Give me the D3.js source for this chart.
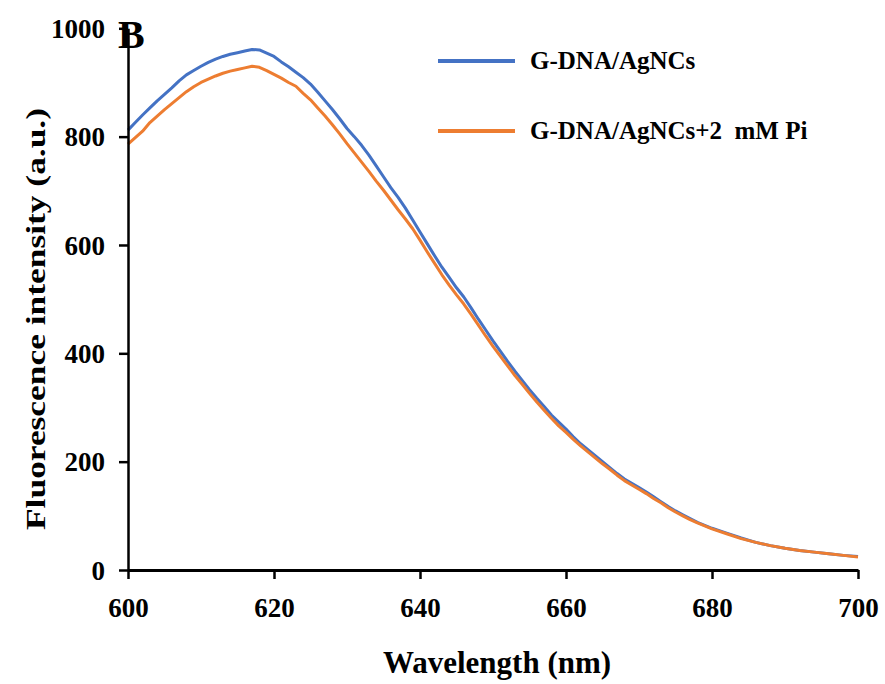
<!DOCTYPE html>
<html>
<head>
<meta charset="utf-8">
<script src="https://cdn.jsdelivr.net/npm/d3@7"></script>
<style>
  html, body { margin: 0; padding: 0; background: #fff; }
  svg { display: block; }
  text { font-family: "Liberation Serif", "Times New Roman", serif; font-weight: bold; fill: #000; }
</style>
</head>
<body>
<svg id="chart" width="885" height="684"></svg>
<script>
// ---- data ----
const wavelengths = [
  600,601,602,603,604,605,606,607,608,609,610,611,612,613,614,615,616,617,618,619,
  620,621,622,623,624,625,626,627,628,629,630,631,632,633,634,635,636,637,638,639,
  640,641,642,643,644,645,646,647,648,649,650,651,652,653,654,655,656,657,658,659,
  660,661,662,663,664,665,666,667,668,669,670,671,672,673,674,675,676,677,678,
  680,682,684,686,688,690,692,694,696,698,700
];
const gdnaAgNCs = [
  812,826,840,853,866,878,890,903,914,922,930,937,943,948,952,955,958,961,960,954,
  948,938,929,919,909,897,882,866,850,833,815,800,784,766,746,726,706,688,668,646,
  624,602,580,559,540,521,504,484,463,443,423,404,385,367,350,333,317,302,286,273,
  260,246,233,222,211,200,189,178,168,160,152,144,135,126,117,109,102,95,88,
  77,68,59,51,45,40,36,33,30,27,25
];
const gdnaAgNCsPi = [
  786,798,810,826,838,850,861,872,883,892,900,906,912,917,921,924,927,930,928,922,
  915,908,900,893,880,868,853,838,822,805,787,770,753,736,718,701,683,665,648,630,
  609,587,566,545,526,508,491,472,452,432,413,395,377,359,343,326,310,295,280,266,
  254,241,229,218,207,196,186,175,165,157,149,141,132,124,115,107,100,93,87,
  76,67,58,51,45,40,36,33,30,27,24
];
const seriesNames = ["G-DNA/AgNCs", "G-DNA/AgNCs+2  mM Pi"];
const seriesColors = ["#4472C4", "#ED7D31"];
const xTicks = [600, 620, 640, 660, 680, 700];
const yTicks = [0, 200, 400, 600, 800, 1000];
const xTitle = "Wavelength (nm)";
const yTitle = "Fluorescence intensity (a.u.)";
const panelLabel = "B";

// ---- layout ----
const svg = d3.select("#chart");
const x = d3.scaleLinear().domain([600, 700]).range([128, 858]);
const y = d3.scaleLinear().domain([0, 1000]).range([570, 28.3]);

// lines
const series = [gdnaAgNCs, gdnaAgNCsPi];
const line = d3.line().x(d => x(d[0])).y(d => y(d[1]));
series.forEach((vals, i) => {
  svg.append("path")
    .datum(wavelengths.map((w, j) => [w, vals[j]]))
    .attr("fill", "none")
    .attr("stroke", seriesColors[i])
    .attr("stroke-width", 3)
    .attr("stroke-linejoin", "round")
    .attr("d", line);
});

// axes
const xAxis = d3.axisBottom(x).tickValues(xTicks).tickSize(9).tickSizeOuter(0).tickFormat(d3.format("d"));
const gx = svg.append("g").attr("transform", "translate(0,570)").call(xAxis);
gx.select(".domain").attr("stroke", "#000").attr("stroke-width", 3);
gx.selectAll(".tick line").attr("stroke", "#000").attr("stroke-width", 2.5);
gx.selectAll(".tick text")
  .attr("y", 0).attr("dy", null)
  .attr("transform", "translate(0,47)")
  .style("font-size", "27px")
  .style("font-family", "'Liberation Serif', serif")
  .style("font-weight", "bold")
  .attr("fill", "#000");

const yAxis = d3.axisLeft(y).tickValues(yTicks).tickSize(9).tickSizeOuter(0).tickFormat(d3.format("d"));
const gy = svg.append("g").attr("transform", "translate(128,0)").call(yAxis);
gy.select(".domain").attr("stroke", "#000").attr("stroke-width", 2.5);
gy.selectAll(".tick line").attr("stroke", "#000").attr("stroke-width", 2.5);
gy.selectAll(".tick text")
  .attr("x", -23).attr("dy", "0.34em")
  .style("font-size", "27px")
  .style("font-family", "'Liberation Serif', serif")
  .style("font-weight", "bold")
  .attr("fill", "#000");

// axis titles
svg.append("text")
  .attr("x", 497).attr("y", 673)
  .attr("text-anchor", "middle")
  .style("font-size", "31px")
  .text(xTitle);

svg.append("text")
  .attr("transform", "translate(45,319) rotate(-90)")
  .attr("text-anchor", "middle")
  .attr("textLength", 422)
  .attr("lengthAdjust", "spacingAndGlyphs")
  .style("font-size", "27px")
  .text(yTitle);

// panel label
svg.append("text")
  .attr("x", 118).attr("y", 48)
  .style("font-size", "40px")
  .text(panelLabel);

// legend
const legendY = [61, 131];
seriesNames.forEach((name, i) => {
  svg.append("line")
    .attr("x1", 438).attr("x2", 515)
    .attr("y1", legendY[i]).attr("y2", legendY[i])
    .attr("stroke", seriesColors[i])
    .attr("stroke-width", 4);
  svg.append("text")
    .attr("x", 530).attr("y", legendY[i] + 7.5)
    .style("font-size", "25px")
    .style("white-space", "pre")
    .attr("xml:space", "preserve")
    .text(name);
});
</script>
</body>
</html>
